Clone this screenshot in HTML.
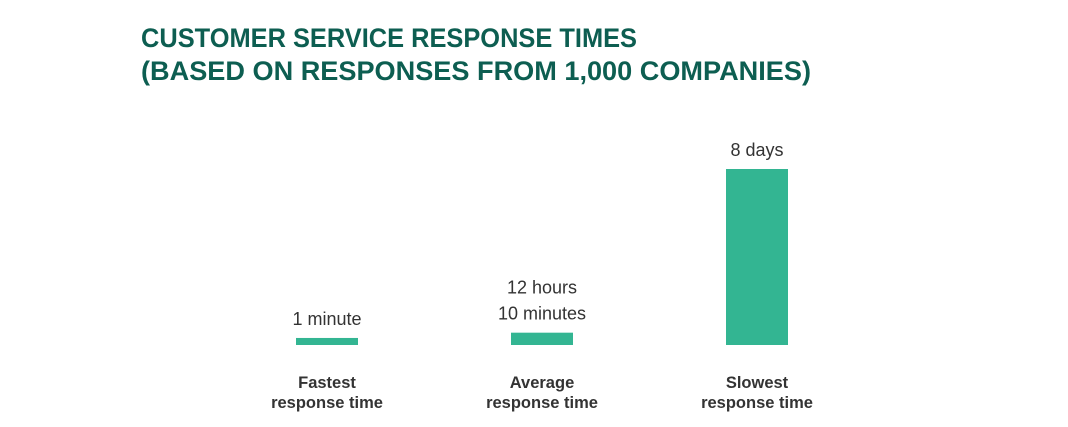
<!DOCTYPE html>
<html><head><meta charset="utf-8"><style>
body{margin:0;background:#fff;}
svg{display:block;font-family:"Liberation Sans",sans-serif;}
</style></head><body>
<svg id="chart" width="1068" height="427" viewBox="0 0 1068 427">
<text x="141" y="47" font-size="27" font-weight="bold" fill="#0d5e51" textLength="496" lengthAdjust="spacingAndGlyphs">CUSTOMER SERVICE RESPONSE TIMES</text>
<text x="141" y="80" font-size="27" font-weight="bold" fill="#0d5e51" textLength="670" lengthAdjust="spacingAndGlyphs">(BASED ON RESPONSES FROM 1,000 COMPANIES)</text>
<g id="bars"></g>
</svg>
<script>
const categories=[["Fastest","response time"],["Average","response time"],["Slowest","response time"]];
const values=[4,7,100];
const valueLabels=[["1 minute"],["12 hours","10 minutes"],["8 days"]];
const svg=document.getElementById('bars');
const NS='http://www.w3.org/2000/svg';
const baseY=345, maxH=176, maxV=100;
const xCenter=i=>327+i*215;
const yScale=v=>v/maxV*maxH;
function mk(t,a){const e=document.createElementNS(NS,t);for(const k in a)e.setAttribute(k,a[k]);svg.appendChild(e);return e;}
values.forEach((v,i)=>{
  const h=yScale(v),cx=xCenter(i);
  const r=mk('rect',{x:cx-31,y:baseY-h,width:62,height:h,fill:'#33b592'});
  
  
  const lines=valueLabels[i];
  lines.forEach((s,j)=>{
    const t=mk('text',{x:cx,y:baseY-h-13-(lines.length-1-j)*26,'font-size':18,fill:'#333','text-anchor':'middle'});
    t.textContent=s;
    
    
  });
  categories[i].forEach((s,j)=>{
    const t=mk('text',{x:cx,y:388+j*20,'font-size':16.5,'font-weight':'bold',fill:'#333','text-anchor':'middle'});
    t.textContent=s;
    
    
  });
});
</script>
</body></html>
